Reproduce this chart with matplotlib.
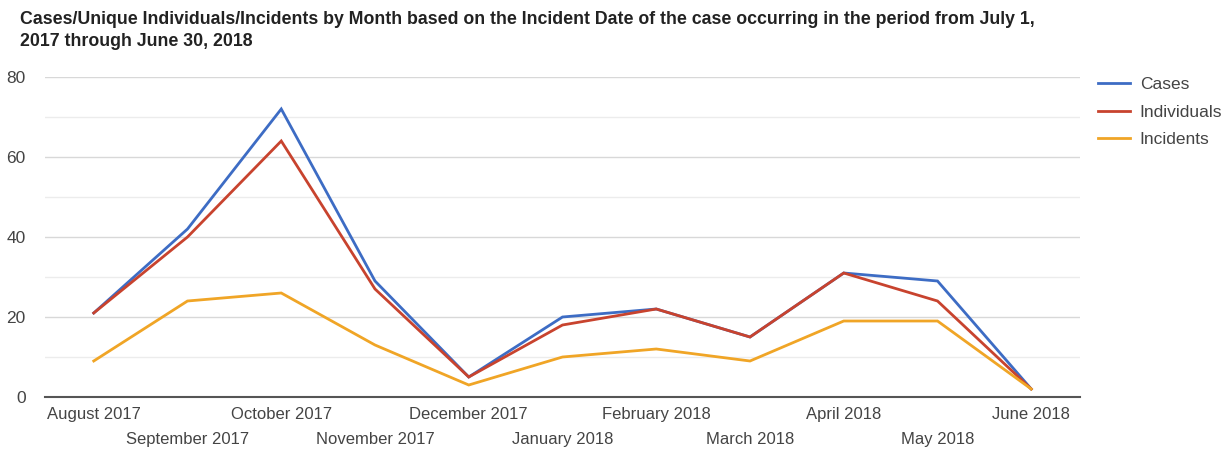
import matplotlib
matplotlib.use("Agg")
import matplotlib.pyplot as plt

months = ["August 2017", "September 2017", "October 2017", "November 2017",
          "December 2017", "January 2018", "February 2018", "March 2018",
          "April 2018", "May 2018", "June 2018"]
cases = [21, 42, 72, 29, 5, 20, 22, 15, 31, 29, 2]
individuals = [21, 40, 64, 27, 5, 18, 22, 15, 31, 24, 2]
incidents = [9, 24, 26, 13, 3, 10, 12, 9, 19, 19, 2]
series_names = ["Cases", "Individuals", "Incidents"]
colors = ["#3d6cc4", "#c8432e", "#f0a526"]

plt.rcParams['font.family'] = ['Liberation Sans', 'DejaVu Sans']

fig = plt.figure(figsize=(12.31, 4.51), dpi=100)
ax = fig.add_axes([45/1231, 1-397/451, (1080-45)/1231, (397-77)/451])

x = list(range(len(months)))
for vals, name, c in zip([cases, individuals, incidents], series_names, colors):
    ax.plot(x, vals, color=c, lw=2, label=name, solid_joinstyle='miter')

ax.set_xlim(-0.52, len(months) - 1 + 0.52)
ax.set_ylim(0, 80)
ax.set_yticks([0, 20, 40, 60, 80])
ax.set_yticks(range(0, 81, 10), minor=True)
ax.grid(axis='y', which='major', color='#d8d8d8', lw=1)
ax.grid(axis='y', which='minor', color='#ececec', lw=1)
ax.set_axisbelow(True)
for s in ['top', 'right', 'left']:
    ax.spines[s].set_visible(False)
ax.spines['bottom'].set_color('#555555')
ax.spines['bottom'].set_linewidth(1.5)
ax.tick_params(axis='y', which='both', length=0, labelsize=12.5, labelcolor='#444444', pad=14)
ax.tick_params(axis='x', length=0, labelcolor='#444444')
ax.set_xticks(x)
ax.set_xticklabels([])
for i, m in enumerate(months):
    off = 0 if i % 2 == 0 else 1
    ax.annotate(m, xy=(i, 0), xycoords=('data', 'axes fraction'),
                xytext=(0, -10 - off * 25), textcoords='offset pixels',
                ha='center', va='top', fontsize=12, color='#444444')

fig.text(20/1231, 1-19/451, "Cases/Unique Individuals/Incidents by Month based on the Incident Date of the case occurring in the period from July 1,",
         fontsize=12.8, fontweight='bold', ha='left', va='center', color='#222222')
fig.text(20/1231, 1-41/451, "2017 through June 30, 2018",
         fontsize=12.8, fontweight='bold', ha='left', va='center', color='#222222')

leg = ax.legend(loc='upper left', bbox_to_anchor=(1098/1231, 1-77/451), bbox_transform=fig.transFigure,
                frameon=False, fontsize=12.5, handlelength=1.85, handletextpad=0.55,
                labelspacing=0.72, borderpad=0, borderaxespad=0)
for t in leg.get_texts():
    t.set_color('#444444')

fig.savefig("out.png", dpi=100)
